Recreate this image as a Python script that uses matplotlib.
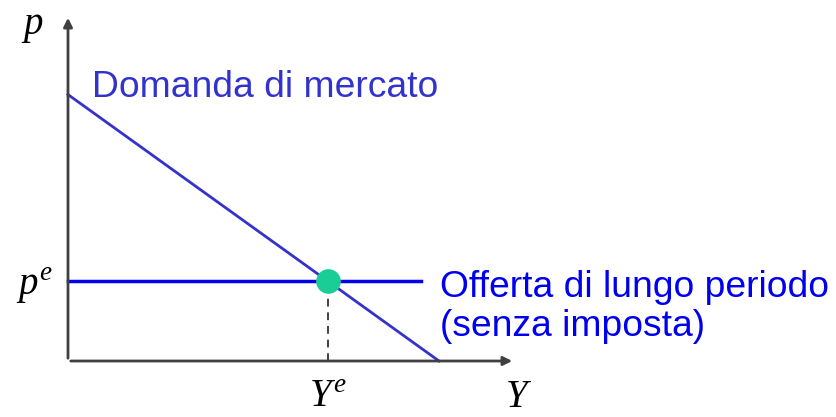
import matplotlib.pyplot as plt

plt.rcParams['mathtext.fontset'] = 'custom'
plt.rcParams['mathtext.it'] = 'Liberation Serif:italic'
plt.rcParams['mathtext.rm'] = 'Liberation Serif'

# Market values (arbitrary units)
demand_p0 = 7.7      # price intercept of demand
demand_q0 = 8.3      # quantity intercept of demand
supply_p = 2.3       # long-run supply price (no tax)
supply_end = 7.9     # where the supply line stops

# Equilibrium quantity
y_eq = demand_q0 * (1 - supply_p / demand_p0)

fig = plt.figure(figsize=(8.37, 4.17), dpi=100)
ax = fig.add_axes([68 / 837, 56 / 417, 447 / 837, 346 / 417])
ax.set_xlim(0, 10)
ax.set_ylim(0, 10)
ax.axis('off')

# Axes with arrows
axis_col = '#404040'
ax.annotate('', xy=(0, 10), xytext=(0, 0),
            arrowprops=dict(arrowstyle='-|>', color=axis_col, lw=2, mutation_scale=13),
            annotation_clip=False)
ax.annotate('', xy=(10, 0), xytext=(0, 0),
            arrowprops=dict(arrowstyle='-|>', color=axis_col, lw=2, mutation_scale=13),
            annotation_clip=False)

# Demand
ax.plot([0, demand_q0], [demand_p0, 0], color='#3333cc', lw=2, clip_on=False)
# Supply
ax.plot([0, supply_end], [supply_p, supply_p], color='#0000ee', lw=2.5, clip_on=False)
# Dashed drop line
ax.plot([y_eq, y_eq], [0, supply_p], color=axis_col, lw=1.4, ls=(0, (4, 3)))
# Equilibrium point
ax.scatter([y_eq], [supply_p], s=280, color='#1acc96', zorder=5, clip_on=False)

# Axis labels
ax.text(-0.8, 9.45, r'$p$', fontsize=28, ha='center', va='baseline')
ax.text(-0.75, 1.91, r'$p^e$', fontsize=28, ha='center', va='baseline')
ax.text(y_eq, -1.33, r'$Y^e$', fontsize=28, ha='center', va='baseline')
ax.text(10.07, -1.33, r'$Y$', fontsize=28, ha='center', va='baseline')

# Curve labels
ax.text(0.54, 7.63, 'Domanda di mercato', fontsize=26.8, color='#3333cc',
        family='Liberation Sans', va='baseline')
ax.text(8.33, 1.85, 'Offerta di lungo periodo', fontsize=26.8,
        color='#0000ee', family='Liberation Sans', va='baseline')
ax.text(8.33, 0.72, '(senza imposta)', fontsize=26.8,
        color='#0000ee', family='Liberation Sans', va='baseline')

fig.savefig('out.png', dpi=100)
